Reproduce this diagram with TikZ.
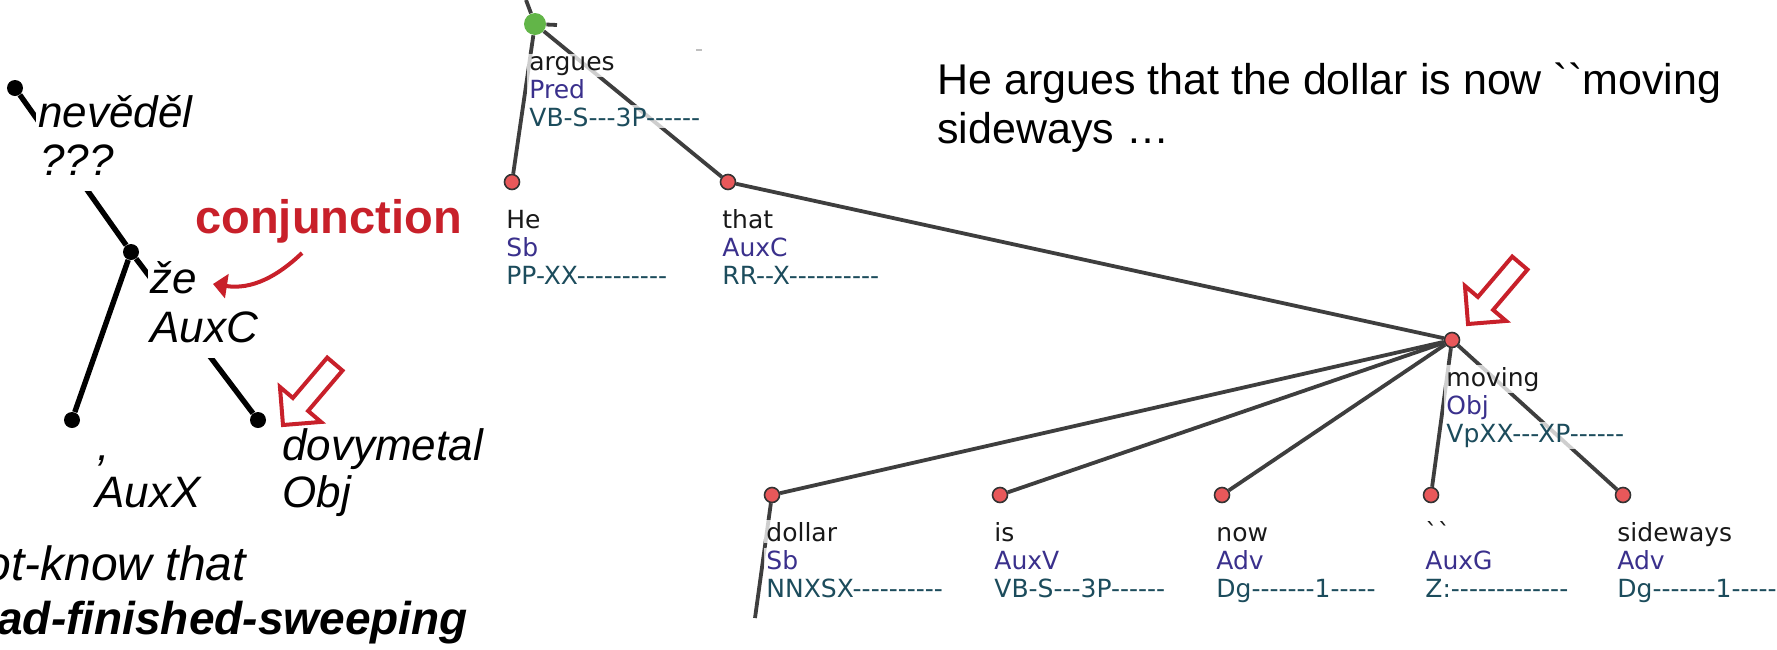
\documentclass[tikz,border=0pt]{standalone}
\usepackage{fontspec}
\setmainfont{Liberation Sans}
\usetikzlibrary{arrows.meta}
\font\trfont="DejaVu Sans" at 12.5pt
\font\sentfont="Liberation Sans" at 21.5pt
\definecolor{edgegray}{RGB}{62,62,62}
\definecolor{dotred}{RGB}{232,88,90}
\definecolor{dotgreen}{RGB}{98,181,72}
\definecolor{labcol}{RGB}{58,48,140}
\definecolor{tagcol}{RGB}{28,76,92}
\definecolor{markred}{RGB}{200,32,42}
\pgfdeclarelayer{bg}
\pgfdeclarelayer{edges}
\pgfsetlayers{bg,edges,main}
\tikzset{
  tdot/.style={circle, fill=dotred, draw=black!80, line width=0.8pt, inner sep=0pt, minimum size=7.5pt},
  gdot/.style={circle, fill=dotgreen, inner sep=0pt, minimum size=11pt},
  bdot/.style={circle, fill=black, inner sep=0pt, minimum size=8pt},
  tedge/.style={draw=edgegray, line width=1.9pt},
  bedge/.style={draw=black, line width=2.7pt},
  tword/.style={anchor=base west, inner sep=1pt, font=\trfont, text=black!90, fill=white, fill opacity=0.75, text opacity=1},
  tlab/.style={tword, text=labcol},
  ttag/.style={tword, text=tagcol},
  ltext/.style={anchor=base west, inner xsep=1pt, inner ysep=0pt, text height=17pt, text depth=8pt, font=\itshape\fontsize{22}{26}\selectfont, fill=white},
  hollow/.style={draw=markred, line width=2pt, fill=white, line join=miter},
  conjarrow/.style={draw=markred, line width=2pt, -{Triangle[length=7pt,width=12pt]}},
  sent/.style={anchor=base west, inner sep=0pt, font=\sentfont}
}
\newcommand\treetok[7]{%
  \node[#7] (#1) at (#2,#3) {};
  \node[tword] (#1w) at (#2-8,#3+46) {#4};
  \node[tlab] (#1l) at (#2-8,#3+74) {#5};
  \node[ttag] (#1t) at (#2-8,#3+102) {#6};
}
\begin{document}
\begin{tikzpicture}[x=0.5pt,y=-0.5pt]
\begin{pgfonlayer}{bg}
\fill[white] (0,0) rectangle (1777,649);
\end{pgfonlayer}
\useasboundingbox (0,0) rectangle (1777,649);

% ---------- right tree ----------
\treetok{argues}{535}{24}{argues}{Pred}{VB-S---3P------}{gdot}
\treetok{He}{512}{182}{He}{Sb}{PP-XX----------}{tdot}
\treetok{that}{728}{182}{that}{AuxC}{RR--X----------}{tdot}
\treetok{moving}{1452}{340}{moving}{Obj}{VpXX---XP------}{tdot}
\treetok{dollar}{772}{495}{dollar}{Sb}{NNXSX----------}{tdot}
\treetok{is}{1000}{495}{is}{AuxV}{VB-S---3P------}{tdot}
\treetok{now}{1222}{495}{now}{Adv}{Dg-------1-----}{tdot}
\treetok{bq}{1431}{495}{``}{AuxG}{Z:-------------}{tdot}
\treetok{sideways}{1623}{495}{sideways}{Adv}{Dg-------1-----}{tdot}
\coordinate (argtop) at (526,0);
\coordinate (argstub) at (557,25);
\coordinate (dollarkid) at (755,618);
\coordinate (gd1) at (696,50);
\coordinate (gd2) at (702,50);

% ---------- left tree ----------
\node[bdot] (nev) at (15,88) {};
\node[bdot] (ze) at (131,252) {};
\node[bdot] (auxx) at (72,420) {};
\node[bdot] (dovy) at (258,420) {};
\node[ltext] (nevw) at (36,127) {nevěděl};
\node[ltext] (nevl) at (38,175) {???};
\node[ltext] (zew) at (148,293) {že};
\node[ltext] (zel) at (148,342) {AuxC};
\node[ltext] (auxxw) at (95,460) {,};
\node[ltext] (auxxl) at (93,507) {AuxX};
\node[ltext] (dovyw) at (280,460) {dovymetal};
\node[ltext] (dovyl) at (280,507) {Obj};

\begin{pgfonlayer}{edges}
\draw[tedge] (argues) -- (argtop);
\draw[tedge] (argues) -- (argstub);
\draw[tedge] (argues) -- (He);
\draw[tedge] (argues) -- (that);
\draw[tedge] (that) -- (moving);
\draw[tedge] (moving) -- (dollar);
\draw[tedge] (moving) -- (is);
\draw[tedge] (moving) -- (now);
\draw[tedge] (moving) -- (bq);
\draw[tedge] (moving) -- (sideways);
\draw[tedge] (dollar) -- (dollarkid);
\draw[gray!50, line width=1pt] (gd1) -- (gd2);
\draw[bedge] (nev) -- (ze);
\draw[bedge] (ze) -- (auxx);
\draw[bedge] (ze) -- (dovy);
\end{pgfonlayer}

% ---------- annotations ----------
\node[anchor=base west, inner sep=0pt, text=markred, font=\bfseries\fontsize{23.5}{28}\selectfont] (conj) at (195,233) {conjunction};
\coordinate (cs) at (302,253);
\coordinate (ce) at (213,284);
\draw[conjarrow] (cs) .. controls (278,276) and (252,290) .. (ce);

\begin{scope}[shift={(283,425)}, rotate=49.6]
\draw[hollow] (0,0) -- (27,27) -- (27,10) -- (80,10) -- (80,-10) -- (27,-10) -- (27,-27) -- cycle;
\end{scope}
\begin{scope}[shift={(1468,324)}, rotate=49.6]
\draw[hollow] (0,0) -- (27,27) -- (27,10) -- (80,10) -- (80,-10) -- (27,-10) -- (27,-27) -- cycle;
\end{scope}

\node[anchor=base west, inner sep=0pt, font=\itshape\fontsize{24}{28}\selectfont] (bl1) at (-16,580) {ot-know that};
\node[anchor=base west, inner sep=0pt, font=\bfseries\itshape\fontsize{23}{27}\selectfont] (bl2) at (-3,634) {ad-finished-sweeping};

\node[sent] (s1) at (937,94) {He argues that the dollar is now ``moving};
\node[sent] (s2) at (937,143) {sideways …};
\end{tikzpicture}
\end{document}
